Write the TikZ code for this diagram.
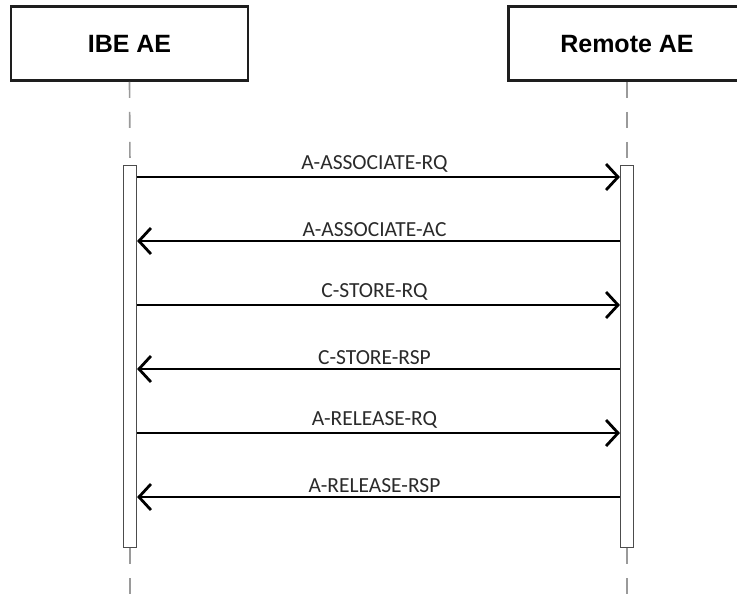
\documentclass[tikz,border=0pt]{standalone}
\usepackage{fontspec}
\setmainfont{Carlito}
\newfontfamily\titlefont{Liberation Sans}
\usepackage{tikz}
\usepackage{xcolor}
\usetikzlibrary{arrows.meta, positioning, calc}

\definecolor{lifegray}{HTML}{9A9A9A}
\definecolor{boxline}{HTML}{1E1E1E}
\definecolor{msgtext}{HTML}{2A2A2A}

\begin{document}
\begin{tikzpicture}[x=1pt, y=-1pt,
    actor/.style={draw=boxline, line width=2.6pt, fill=white, minimum width=237pt,
        minimum height=74pt, text height=18pt, text depth=0pt,
        font=\titlefont\bfseries\fontsize{25}{28}\selectfont},
    actbar/.style={draw=black!70, line width=1.1pt, fill=white, minimum width=13pt,
        minimum height=382pt, inner sep=0pt},
    life/.style={draw=lifegray, line width=1.6pt, dash pattern=on 16pt off 14pt},
    msg/.style={line width=2pt, -{Straight Barb[length=12pt, width=26pt, line width=2.8pt]}},
    msglabel/.style={midway, above=0pt, xshift=-4pt, text=msgtext, font=\fontsize{21.5}{24}\selectfont}]
\useasboundingbox (0,0) rectangle (737,598);

% Actors
\node[actor] (ibe) at (129.5,43.5) {IBE AE};
\node[actor] (remote) at (627,43.5) {Remote AE};

% Activation bars
\node[actbar] (ibebar) at (130,356.5) {};
\node[actbar] (rembar) at (627,356.5) {};

% Lifelines
\coordinate (ibeend) at (130,598);
\coordinate (remend) at (627,598);
\draw[life] (ibe.south) -- (ibebar.north);
\draw[life] (remote.south) -- (rembar.north);
\draw[life] (ibebar.south) -- (ibeend);
\draw[life] (rembar.south) -- (remend);

% Messages
\foreach \y/\txt in {177/A-ASSOCIATE-RQ, 305/C-STORE-RQ, 433/A-RELEASE-RQ}
    \draw[msg] (ibebar.east |- 0,\y) -- (rembar.west |- 0,\y) node[msglabel] {\txt};
\foreach \y/\txt in {241/A-ASSOCIATE-AC, 369/C-STORE-RSP, 497/A-RELEASE-RSP}
    \draw[msg] (rembar.west |- 0,\y) -- (ibebar.east |- 0,\y) node[msglabel] {\txt};
\end{tikzpicture}
\end{document}
